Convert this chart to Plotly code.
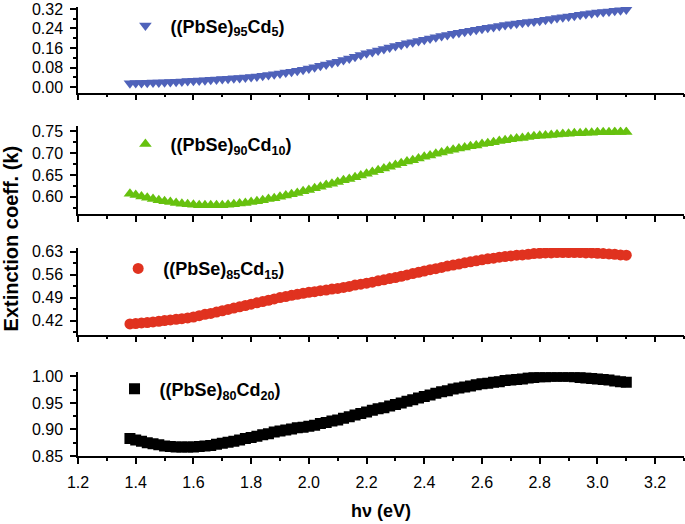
import plotly.graph_objects as go

# Photon energy grid (eV)
energy = [1.38, 1.40, 1.42, 1.44, 1.46, 1.48, 1.50, 1.52, 1.54, 1.56, 1.58, 1.60,
          1.62, 1.64, 1.66, 1.68, 1.70, 1.72, 1.74, 1.76, 1.78, 1.80, 1.82, 1.84,
          1.86, 1.88, 1.90, 1.92, 1.94, 1.96, 1.98, 2.00, 2.02, 2.04, 2.06, 2.08,
          2.10, 2.12, 2.14, 2.16, 2.18, 2.20, 2.22, 2.24, 2.26, 2.28, 2.30, 2.32,
          2.34, 2.36, 2.38, 2.40, 2.42, 2.44, 2.46, 2.48, 2.50, 2.52, 2.54, 2.56,
          2.58, 2.60, 2.62, 2.64, 2.66, 2.68, 2.70, 2.72, 2.74, 2.76, 2.78, 2.80,
          2.82, 2.84, 2.86, 2.88, 2.90, 2.92, 2.94, 2.96, 2.98, 3.00, 3.02, 3.04,
          3.06, 3.08, 3.10]

k_cd5 = [0.015, 0.016, 0.016, 0.017, 0.018, 0.019, 0.020, 0.021, 0.022, 0.023, 0.025, 0.026,
         0.027, 0.028, 0.030, 0.031, 0.033, 0.034, 0.036, 0.037, 0.039, 0.041, 0.043, 0.046,
         0.049, 0.052, 0.055, 0.059, 0.063, 0.067, 0.071, 0.076, 0.081, 0.087, 0.092, 0.098,
         0.104, 0.111, 0.117, 0.124, 0.131, 0.138, 0.144, 0.150, 0.156, 0.162, 0.168, 0.173,
         0.179, 0.184, 0.189, 0.194, 0.199, 0.204, 0.209, 0.213, 0.218, 0.222, 0.227, 0.231,
         0.235, 0.239, 0.243, 0.246, 0.250, 0.254, 0.257, 0.260, 0.263, 0.266, 0.269, 0.272,
         0.276, 0.279, 0.283, 0.286, 0.289, 0.292, 0.296, 0.299, 0.302, 0.305, 0.308, 0.310,
         0.313, 0.315, 0.318]

k_cd10 = [0.607, 0.604, 0.601, 0.598, 0.595, 0.592, 0.590, 0.588, 0.586, 0.584, 0.583, 0.582,
          0.581, 0.581, 0.581, 0.581, 0.581, 0.582, 0.583, 0.585, 0.586, 0.588, 0.590, 0.592,
          0.595, 0.597, 0.600, 0.603, 0.606, 0.609, 0.613, 0.616, 0.620, 0.623, 0.627, 0.630,
          0.634, 0.638, 0.641, 0.645, 0.649, 0.653, 0.657, 0.661, 0.665, 0.669, 0.673, 0.677,
          0.681, 0.684, 0.688, 0.692, 0.695, 0.699, 0.702, 0.705, 0.708, 0.711, 0.713, 0.716,
          0.718, 0.721, 0.723, 0.725, 0.728, 0.730, 0.732, 0.734, 0.735, 0.737, 0.739, 0.740,
          0.741, 0.742, 0.743, 0.744, 0.745, 0.746, 0.746, 0.747, 0.747, 0.748, 0.748, 0.748,
          0.749, 0.749, 0.749]

k_cd15 = [0.410, 0.411, 0.413, 0.414, 0.416, 0.418, 0.420, 0.422, 0.424, 0.426, 0.428, 0.431,
          0.435, 0.439, 0.442, 0.446, 0.450, 0.454, 0.458, 0.462, 0.466, 0.470, 0.474, 0.478,
          0.482, 0.486, 0.490, 0.493, 0.497, 0.500, 0.503, 0.506, 0.508, 0.511, 0.513, 0.516,
          0.518, 0.521, 0.524, 0.528, 0.531, 0.534, 0.537, 0.541, 0.544, 0.548, 0.551, 0.555,
          0.559, 0.563, 0.567, 0.571, 0.575, 0.578, 0.582, 0.586, 0.589, 0.592, 0.596, 0.599,
          0.602, 0.605, 0.608, 0.610, 0.613, 0.615, 0.617, 0.619, 0.620, 0.622, 0.624, 0.625,
          0.626, 0.626, 0.627, 0.627, 0.627, 0.627, 0.627, 0.626, 0.626, 0.625, 0.624, 0.623,
          0.622, 0.620, 0.619]

k_cd20 = [0.883, 0.880, 0.878, 0.875, 0.873, 0.871, 0.869, 0.868, 0.867, 0.867, 0.867, 0.867,
          0.868, 0.869, 0.870, 0.872, 0.874, 0.876, 0.878, 0.880, 0.883, 0.885, 0.887, 0.890,
          0.892, 0.895, 0.897, 0.899, 0.901, 0.903, 0.904, 0.906, 0.908, 0.911, 0.913, 0.916,
          0.918, 0.921, 0.924, 0.927, 0.930, 0.933, 0.936, 0.939, 0.941, 0.944, 0.947, 0.950,
          0.953, 0.956, 0.959, 0.962, 0.965, 0.968, 0.971, 0.973, 0.976, 0.978, 0.980, 0.982,
          0.984, 0.986, 0.987, 0.989, 0.990, 0.992, 0.993, 0.994, 0.995, 0.997, 0.998, 0.999,
          0.999, 1.000, 1.000, 1.000, 1.000, 0.999, 0.998, 0.997, 0.996, 0.995, 0.994, 0.993,
          0.991, 0.990, 0.989]

names = ["<b>((PbSe)<sub>95</sub>Cd<sub>5</sub>)</b>",
         "<b>((PbSe)<sub>90</sub>Cd<sub>10</sub>)</b>",
         "<b>((PbSe)<sub>85</sub>Cd<sub>15</sub>)</b>",
         "<b>((PbSe)<sub>80</sub>Cd<sub>20</sub>)</b>"]
series = [k_cd5, k_cd10, k_cd15, k_cd20]
colors = ["#4F62BA", "#66C10E", "#E0321F", "#000000"]
symbols = ["triangle-down", "triangle-up", "circle", "square"]

y_ranges = [[-0.023, 0.328], [0.5605, 0.7614], [0.3776, 0.6412], [0.85, 1.0075]]
y_dtick = [0.08, 0.05, 0.07, 0.05]
y_tick0 = [0.0, 0.6, 0.42, 0.85]
domains = [[0.8093, 1.0], [0.5388, 0.7339], [0.2705, 0.4634], [0.0, 0.1863]]
leg_pos = [(0.070, 0.958), (0.070, 0.694), (0.058, 0.417), (0.052, 0.149)]

fig = go.Figure()
for i in range(4):
    sfx = "" if i == 0 else str(i + 1)
    fig.add_trace(go.Scatter(
        x=energy, y=series[i], mode="markers", name=names[i],
        marker=dict(symbol=symbols[i], size=11, color=colors[i], line=dict(width=0)),
        xaxis="x" + sfx, yaxis="y" + sfx,
        legend="legend" + sfx, showlegend=True))

font_fam = "Liberation Sans, Arial, sans-serif"
layout = dict(
    width=685, height=524,
    margin=dict(l=78, r=1, t=5, b=68),
    plot_bgcolor="white", paper_bgcolor="white",
    font=dict(family=font_fam, size=16, color="black"),
)
for i in range(4):
    sfx = "" if i == 0 else str(i + 1)
    layout["xaxis" + sfx] = dict(
        range=[1.2, 3.3], domain=[0, 1], anchor="y" + sfx,
        showline=True, linecolor="black", linewidth=1.5,
        ticks="outside", ticklen=6, tickwidth=1.5, tickcolor="black",
        dtick=0.2, tick0=1.2, tickformat=".1f",
        minor=dict(ticks="outside", ticklen=3, dtick=0.1, tickcolor="black", tickwidth=1.5),
        showgrid=False, zeroline=False, showticklabels=(i == 3),
        ticklabelstandoff=5, ticklabeloverflow="allow",
        tickfont=dict(size=16),
    )
    layout["yaxis" + sfx] = dict(
        range=y_ranges[i], domain=domains[i], anchor="x" + sfx,
        showline=True, linecolor="black", linewidth=1.5,
        ticks="outside", ticklen=6, tickwidth=1.5, tickcolor="black",
        dtick=y_dtick[i], tick0=y_tick0[i], tickformat=".2f",
        minor=dict(ticks="outside", ticklen=3, dtick=y_dtick[i] / 2, tickcolor="black", tickwidth=1.5),
        showgrid=False, zeroline=False, ticklabeloverflow="allow",
        ticklabelstandoff=4,
        tickfont=dict(size=16),
    )
    layout["legend" + sfx] = dict(
        x=leg_pos[i][0], y=leg_pos[i][1], xanchor="left", yanchor="middle",
        bgcolor="rgba(0,0,0,0)", borderwidth=0,
        font=dict(size=18, family=font_fam, color="black"),
        itemwidth=40,
    )
fig.update_layout(**layout)

fig.add_annotation(
    text="<b>Extinction coeff. (k)</b>", textangle=-90,
    xref="paper", yref="paper", x=-0.111, y=0.484,
    xanchor="center", yanchor="middle", showarrow=False,
    font=dict(size=20, family=font_fam, color="black"))
fig.add_annotation(
    text="<b>h\u03bd (eV)</b>",
    xref="paper", yref="paper", x=0.5, y=-0.122,
    xanchor="center", yanchor="middle", showarrow=False,
    font=dict(size=18, family=font_fam, color="black"))

fig.write_html("out.html", config={"displayModeBar": False},
               post_script="document.body.style.margin='0';")
